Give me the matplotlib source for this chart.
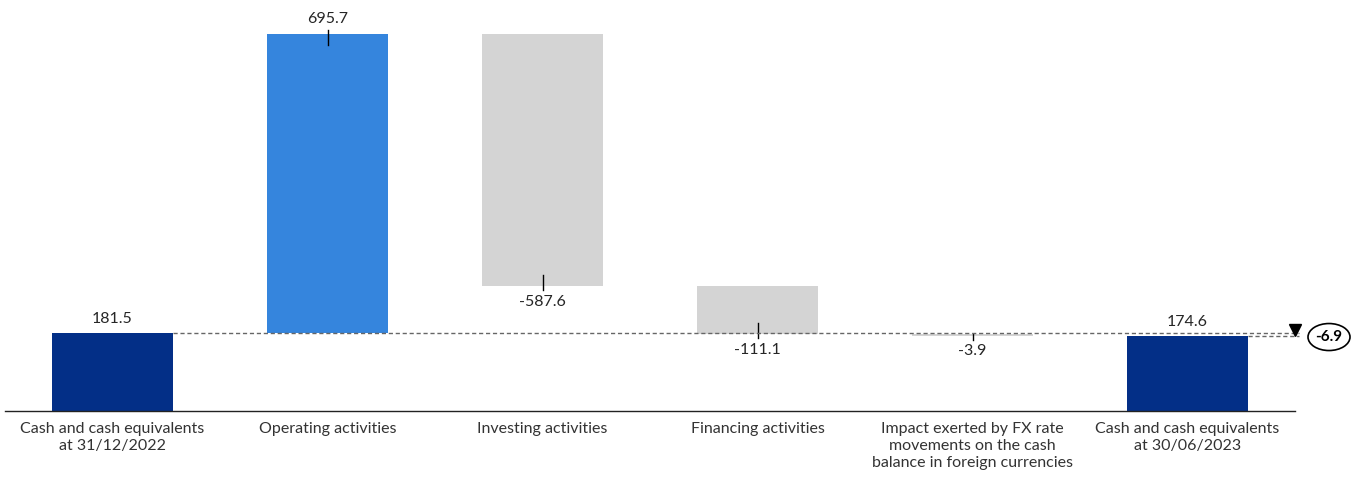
import matplotlib
matplotlib.use("Agg")
import matplotlib.pyplot as plt
from matplotlib.patches import Ellipse
import numpy as np

categories = ["Cash and cash equivalents\nat 31/12/2022", "Operating activities",
              "Investing activities", "Financing activities",
              "Impact exerted by FX rate\nmovements on the cash\nbalance in foreign currencies",
              "Cash and cash equivalents\nat 30/06/2023"]
values = [181.5, 695.7, -587.6, -111.1, -3.9, 174.6]
kinds = ["total", "delta", "delta", "delta", "delta", "total"]
change_label = "-6.9"

NAVY = "#032F87"
BLUE = "#3585DD"
GREY = "#D4D4D4"
TXT = "#262626"

plt.rcParams['font.family'] = ['Lato', 'DejaVu Sans']

fig = plt.figure(figsize=(13.59, 4.8), dpi=100)
ax = fig.add_axes([5/1359, 69/480, 1290/1359, 411/480])
ax.set_xlim(-0.5, 5.5)
ax.set_ylim(0, 956)

x = np.arange(len(values))
w = 0.56
running = 0.0
tick_len_up = 9
tick_len_in = 26
for i, (v, k) in enumerate(zip(values, kinds)):
    if k == "total":
        ax.bar(x[i], v, width=w, bottom=0, color=NAVY, zorder=2)
        running = v
        ax.annotate(f"{v:.1f}", (x[i], v), xytext=(0, 5), textcoords="offset points",
                    ha="center", va="bottom", fontsize=11.5, color=TXT)
    else:
        start = running
        end = running + v
        color = BLUE if v > 0 else GREY
        lo, hi = min(start, end), max(start, end)
        ax.bar(x[i], hi - lo, width=w, bottom=lo, color=color, zorder=2)
        if v > 0:
            ax.plot([x[i], x[i]], [end + tick_len_up, max(end - tick_len_in, start)],
                    color="black", lw=1, zorder=3)
            ax.annotate(f"{v:.1f}", (x[i], end), xytext=(0, 6), textcoords="offset points",
                        ha="center", va="bottom", fontsize=11.5, color=TXT)
        else:
            ax.plot([x[i], x[i]], [end - tick_len_up, min(end + tick_len_in, start)],
                    color="black", lw=1, zorder=3)
            ax.annotate(f"{v:.1f}", (x[i], end), xytext=(0, -6), textcoords="offset points",
                        ha="center", va="top", fontsize=11.5, color=TXT)
        running = end

# reference dashed lines
start_val = values[0]
end_val = values[-1]
ax.plot([x[0] + w/2, 5.52], [start_val, start_val], ls=(0, (3, 2)), color="#666666", lw=1, zorder=4, clip_on=False)
ax.plot([x[-1] + w/2, 5.52], [end_val, end_val], ls=(0, (3, 2)), color="#666666", lw=1, zorder=4, clip_on=False)

# triangle marker and ellipse label
ax.plot([5.5], [start_val + 6], marker="v", color="black", markersize=9, clip_on=False, zorder=5)
ell_x = 5.5 + 34/215
ell_y = (start_val + end_val) / 2 - 6
ax.add_patch(Ellipse((ell_x, ell_y), width=42/215, height=27*956/411, fill=False,
                     edgecolor="black", lw=1.2, clip_on=False, zorder=5))
ax.text(ell_x, ell_y, change_label, ha="center", va="center", fontsize=11,
        fontweight="bold", color="black", zorder=6)

ax.set_xticks(x)
ax.set_xticklabels(categories, fontsize=11.5, color="#333333", linespacing=1.25)
ax.tick_params(axis="x", length=0, pad=8)
ax.set_yticks([])
for s in ["top", "right", "left"]:
    ax.spines[s].set_visible(False)
ax.spines["bottom"].set_color("#222222")
ax.spines["bottom"].set_linewidth(1)

fig.savefig("out.png", dpi=100)
